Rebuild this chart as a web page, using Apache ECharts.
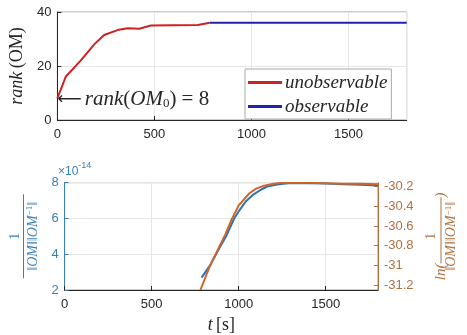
<!DOCTYPE html>
<html><head><meta charset="utf-8">
<script src="https://cdn.jsdelivr.net/npm/echarts@6/dist/echarts.min.js"></script>
<style>html,body{margin:0;padding:0;background:#fff}#c{width:467px;height:335px}</style>
</head><body><div id="c"></div>
<script>
// ---- data ----
const xTicks = [0, 500, 1000, 1500];
const rankYTicks = [0, 20, 40];
const tUnobs = [0, 43, 120, 190, 241, 310, 362, 422, 482, 600, 724, 784];
const rankUnobs = [8, 16, 22, 28, 31.5, 33.3, 34, 33.8, 35, 35.1, 35.2, 36];
const tObs = [784, 1200, 1800];
const rankObs = [36, 36, 36];
const tInv = [787, 840, 887, 930, 974, 1000, 1040, 1086, 1130, 1163, 1220, 1284, 1400, 1500, 1600, 1700, 1800];
const invNorm = [2.69, 3.45, 4.3, 5.05, 6.0, 6.4, 6.95, 7.35, 7.62, 7.78, 7.9, 7.97, 7.97, 7.95, 7.92, 7.88, 7.85]; // x 1e-14
const tLn = [780, 836, 880, 922, 960, 1000, 1060, 1100, 1146, 1200, 1249, 1400, 1500, 1600, 1700, 1800];
const lnInv = [-31.25, -31.0, -30.84, -30.69, -30.53, -30.39, -30.27, -30.22, -30.19, -30.17, -30.16, -30.16, -30.165, -30.17, -30.17, -30.175];
const lnTicks = [-31.2, -31, -30.8, -30.6, -30.4, -30.2];
const seriesNames = ['unobservable', 'observable'];
const annotPoint = [0, 8];

const zip = (a, b) => a.map((v, i) => [v, b[i]]);
const SERIF = "'Liberation Serif','DejaVu Serif',serif";
const SANS = "'Liberation Sans',Arial,sans-serif";
const DARK = '#262626', BLUE = '#2a72b5', ORANGE = '#d2642a';
const BLUE_T = '#3a80b8', ORANGE_T = '#b07040';

function xAx(grid, name) {
  return {
    gridIndex: grid, type: 'value', min: 0, max: 1800, interval: 500,
    axisLine: { lineStyle: { color: DARK, width: 1 } },
    axisTick: { inside: true, length: 4, lineStyle: { color: DARK } },
    axisLabel: { color: DARK, fontSize: 13, fontFamily: SANS, margin: 8, showMaxLabel: false,
      formatter: v => String(v) },
    splitLine: { show: true, lineStyle: { color: '#e6e6e6' } },
    name: name || '', nameLocation: 'middle', nameGap: 26,
    nameTextStyle: { rich: {
      i: { fontFamily: SERIF, fontStyle: 'italic', fontSize: 18, color: DARK },
      n: { fontFamily: SERIF, fontSize: 18, color: DARK } } }
  };
}

const chart = echarts.init(document.getElementById('c'), null, { renderer: 'canvas' });
chart.setOption({
  animation: false,
  backgroundColor: '#fff',
  grid: [
    { left: 56.7, right: 60.3, top: 12, height: 108, show: true, borderColor: '#9a9a9a', borderWidth: 1 },
    { left: 56.7, right: 60.3, top: 182.7, height: 107.3, show: true, borderColor: '#9a9a9a', borderWidth: 1 }
  ],
  xAxis: [xAx(0), xAx(1, '{i|t} {n|[s]}')],
  yAxis: [
    {
      gridIndex: 0, type: 'value', min: 0, max: 40, interval: 20,
      axisLine: { show: true, lineStyle: { color: DARK } },
      axisTick: { show: true, inside: true, length: 4, lineStyle: { color: DARK } },
      axisLabel: { color: DARK, fontSize: 13, fontFamily: SANS, margin: 6 },
      splitLine: { show: true, lineStyle: { color: '#e6e6e6' } },
      name: '{i|rank} {n|(OM)}', nameLocation: 'middle', nameRotate: 90, nameGap: 31,
      nameTextStyle: { rich: {
        i: { fontFamily: SERIF, fontStyle: 'italic', fontSize: 18, color: DARK },
        n: { fontFamily: SERIF, fontSize: 18, color: DARK } } }
    },
    {
      gridIndex: 1, type: 'value', min: 2, max: 8, interval: 2, position: 'left',
      axisLine: { show: true, lineStyle: { color: BLUE_T } },
      axisTick: { show: true, inside: true, length: 4, lineStyle: { color: BLUE_T } },
      axisLabel: { color: BLUE_T, fontSize: 13, fontFamily: SANS, margin: 6 },
      splitLine: { show: true, lineStyle: { color: '#e6e6e6' } },
      name: '{num|1}\n{bar| }\n{d|‖OM‖‖OM}{sup|−1}{d|‖}', nameLocation: 'middle', nameRotate: 90, nameGap: 14,
      nameTextStyle: { color: BLUE_T, align: 'center', rich: {
        num: { fontFamily: SERIF, fontSize: 14, color: BLUE_T, lineHeight: 13, align: 'center' },
        bar: { width: 84, height: 1, backgroundColor: BLUE_T, lineHeight: 4, fontSize: 1, align: 'center' },
        d: { fontFamily: SERIF, fontStyle: 'italic', fontSize: 14, color: BLUE_T, lineHeight: 15 },
        sup: { fontFamily: SERIF, fontSize: 9, color: BLUE_T, lineHeight: 15, padding: [0, 0, 6, 0] } } }
    },
    {
      gridIndex: 1, type: 'value', min: -31.25, max: -30.16, position: 'right',
      axisLine: { show: true, lineStyle: { color: ORANGE_T } },
      axisTick: { show: true, inside: true, length: 4, customValues: lnTicks, lineStyle: { color: ORANGE_T } },
      axisLabel: { color: ORANGE_T, fontSize: 13, fontFamily: SANS, margin: 6, customValues: lnTicks,
        formatter: v => String(Math.round(v * 10) / 10) },
      splitLine: { show: false },
      name: '{num|1}\n{ln|ln(}{bar| }{ln|)}\n{d|‖OM‖‖OM}{sup|−1}{d|‖}', nameLocation: 'middle', nameRotate: 90, nameGap: 43,
      nameTextStyle: { color: ORANGE_T, align: 'center', rich: {
        num: { fontFamily: SERIF, fontSize: 14, color: ORANGE_T, lineHeight: 13 },
        ln: { fontFamily: SERIF, fontStyle: 'italic', fontSize: 15, color: ORANGE_T, lineHeight: 6 },
        bar: { width: 66, height: 1, backgroundColor: ORANGE_T, lineHeight: 6, fontSize: 1 },
        d: { fontFamily: SERIF, fontStyle: 'italic', fontSize: 14, color: ORANGE_T, lineHeight: 15 },
        sup: { fontFamily: SERIF, fontSize: 9, color: ORANGE_T, lineHeight: 15, padding: [0, 0, 6, 0] } } }
    }
  ],
  legend: {
    orient: 'vertical', left: 245, top: 69, padding: [4, 4, 3, 3], itemGap: 5,
    itemWidth: 34, itemHeight: 3, icon: 'rect',
    backgroundColor: '#fff', borderColor: '#aaa', borderWidth: 1,
    textStyle: { fontFamily: SERIF, fontStyle: 'italic', fontSize: 19, color: DARK, padding: [0, 0, 0, -2] },
    data: seriesNames
  },
  graphic: [{
    type: 'text', left: 58, top: 161,
    style: { text: '{a|×10}{b|-14}', rich: {
      a: { fontFamily: SANS, fontSize: 12, fill: BLUE_T, lineHeight: 16, verticalAlign: 'bottom' },
      b: { fontFamily: SANS, fontSize: 9, fill: BLUE_T, lineHeight: 16, padding: [0, 0, 8, 0] } } }
  }],
  series: [
    {
      name: seriesNames[0], type: 'line', xAxisIndex: 0, yAxisIndex: 0, data: zip(tUnobs, rankUnobs),
      symbol: 'none', lineStyle: { color: '#cc2222', width: 2 }, itemStyle: { color: '#cc2222' }, z: 3,
      markPoint: {
        symbol: 'circle', symbolSize: 2, silent: true,
        itemStyle: { color: 'rgba(0,0,0,0)', borderWidth: 0 },
        data: [{ coord: annotPoint }],
        label: { show: true, position: 'right', distance: 0, offset: [-1, 1], color: DARK,
          formatter: '{a|⟵}{i|rank}{n|(}{i|OM}{s|0}{n|) = 8}',
          rich: {
            a: { fontFamily: "'DejaVu Sans',sans-serif", fontSize: 17, color: DARK, padding: [0, 3, 0, 0] },
            i: { fontFamily: SERIF, fontStyle: 'italic', fontSize: 21, color: DARK },
            n: { fontFamily: SERIF, fontSize: 21, color: DARK },
            s: { fontFamily: SERIF, fontSize: 13, color: DARK, padding: [9, 0, 0, 0] } } }
      }
    },
    {
      name: seriesNames[1], type: 'line', xAxisIndex: 0, yAxisIndex: 0, data: zip(tObs, rankObs),
      symbol: 'none', lineStyle: { color: '#2222b0', width: 2 }, itemStyle: { color: '#2222b0' }, z: 3
    },
    {
      name: 'inv', type: 'line', xAxisIndex: 1, yAxisIndex: 1, data: zip(tInv, invNorm),
      symbol: 'none', lineStyle: { color: BLUE, width: 2 }, itemStyle: { color: BLUE }, z: 3
    },
    {
      name: 'ln', type: 'line', xAxisIndex: 1, yAxisIndex: 2, data: zip(tLn, lnInv),
      symbol: 'none', lineStyle: { color: ORANGE, width: 2 }, itemStyle: { color: ORANGE }, z: 4
    }
  ]
});
</script>
</body></html>
